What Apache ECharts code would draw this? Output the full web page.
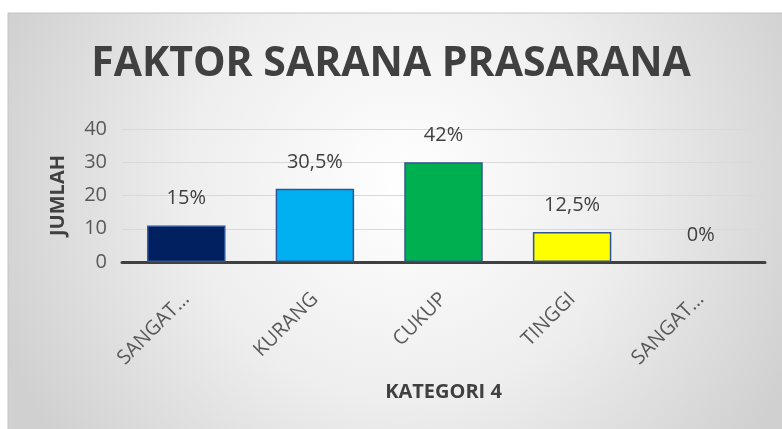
<!DOCTYPE html>
<html>
<head>
<meta charset="utf-8">
<script src="https://cdn.jsdelivr.net/npm/echarts@6/dist/echarts.min.js"></script>
<style>
  html, body { margin: 0; padding: 0; background: #fff; }
  #chart { width: 782px; height: 429px; }
</style>
</head>
<body>
<div id="chart"></div>
<script>
  // data
  const categories = ['SANGAT…', 'KURANG', 'CUKUP', 'TINGGI', 'SANGAT…'];
  const jumlah = [11, 22, 30, 9, 0];
  const pctLabels = ['15%', '30,5%', '42%', '12,5%', '0%'];
  const barColors = ['#002060', '#00B0F0', '#00B050', '#FFFF00', '#FFC000'];
  const yTicks = [0, 10, 20, 30, 40];

  const font = "'Open Sans', 'Noto Sans', sans-serif";
  const chart = echarts.init(document.getElementById('chart'));

  const option = {
    animation: false,
    graphic: [{
      type: 'rect',
      z: -10,
      shape: { x: 8, y: 13, width: 790, height: 430 },
      style: {
        fill: new echarts.graphic.RadialGradient(0.5, 0.4, 1.0, [
          { offset: 0, color: '#ffffff' },
          { offset: 0.5, color: '#eeeeee' },
          { offset: 1, color: '#d0d0d0' }
        ]),
        stroke: '#c4c4c4',
        lineWidth: 1
      }
    }],
    title: {
      text: 'FAKTOR SARANA PRASARANA',
      left: 'center',
      top: 39,
      textStyle: {
        fontFamily: font,
        fontWeight: 'bold',
        fontSize: 41,
        color: '#404040'
      }
    },
    grid: { left: 122, right: 17, top: 129, bottom: 167 },
    xAxis: {
      type: 'category',
      data: categories,
      name: 'KATEGORI 4',
      nameLocation: 'middle',
      nameGap: 120,
      nameTextStyle: { fontFamily: font, fontWeight: 'bold', fontSize: 20, color: '#404040' },
      axisLine: { lineStyle: { color: '#404040', width: 3 } },
      axisTick: { show: false },
      axisLabel: {
        interval: 0,
        rotate: 45,
        margin: 34,
        fontFamily: font,
        fontSize: 20,
        color: '#595959'
      }
    },
    yAxis: {
      type: 'value',
      min: yTicks[0],
      max: yTicks[yTicks.length - 1],
      interval: 10,
      name: 'JUMLAH',
      nameLocation: 'middle',
      nameGap: 54,
      nameRotate: 90,
      nameTextStyle: { fontFamily: font, fontWeight: 'bold', fontSize: 20, color: '#404040' },
      axisLine: { show: false },
      axisTick: { show: false },
      axisLabel: { margin: 15, fontFamily: font, fontSize: 20, color: '#595959' },
      splitLine: { lineStyle: { color: '#d9d9d9', width: 1 } }
    },
    series: [{
      type: 'bar',
      barWidth: '61%',
      data: jumlah.map((v, i) => ({
        value: v,
        itemStyle: { color: barColors[i], borderWidth: v === 0 ? 0 : 1.5 }
      })),
      itemStyle: { borderColor: '#2F5597' },
      label: {
        show: true,
        position: 'top',
        distance: 17,
        fontFamily: font,
        fontSize: 20,
        color: '#404040',
        formatter: p => pctLabels[p.dataIndex]
      }
    }]
  };

  chart.setOption(option);
</script>
</body>
</html>
